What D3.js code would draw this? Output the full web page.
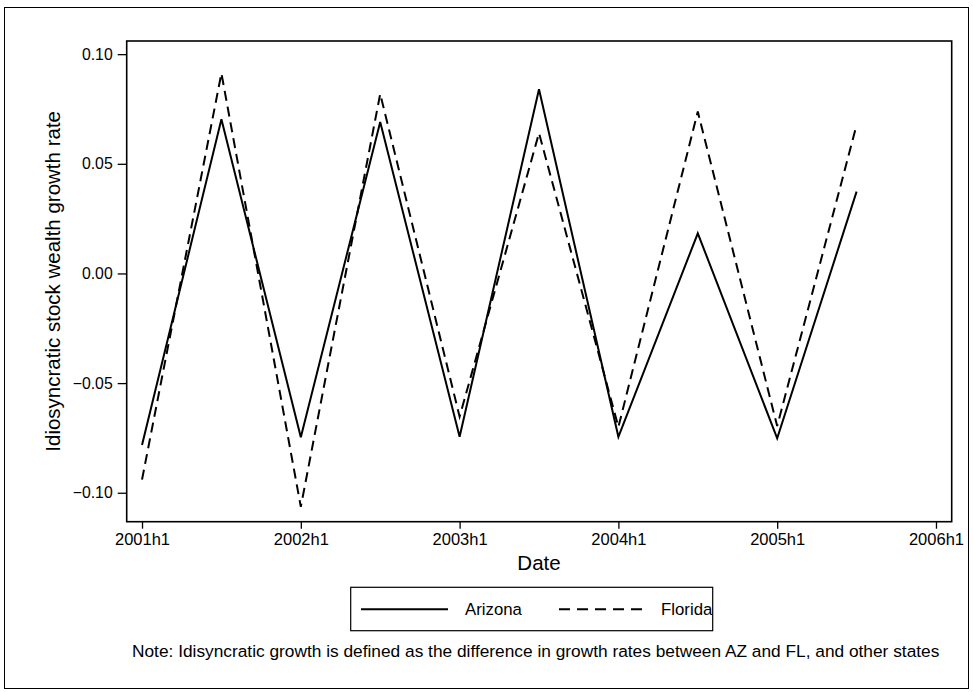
<!DOCTYPE html>
<html><head><meta charset="utf-8">
<script src="https://cdn.jsdelivr.net/npm/d3@7"></script>
<style>body{margin:0;background:#fff;} svg{display:block;} text{font-family:"Liberation Sans",Arial,sans-serif;fill:#000;}</style>
</head><body>
<svg id="c" width="973" height="692"></svg>
<script>
const periods = ["2001h1","2001h2","2002h1","2002h2","2003h1","2003h2","2004h1","2004h2","2005h1","2005h2"];
const arizona = [-0.0782, 0.0703, -0.0747, 0.0691, -0.0745, 0.0840, -0.0745, 0.0183, -0.0752, 0.0373];
const florida = [-0.0940, 0.0913, -0.1064, 0.0819, -0.0653, 0.0640, -0.0700, 0.0738, -0.0696, 0.0677];
const xTickLabels = ["2001h1","2002h1","2003h1","2004h1","2005h1","2006h1"];
const yTicks = [-0.10, -0.05, 0.00, 0.05, 0.10];
const seriesNames = ["Arizona","Florida"];
const yTitle = "Idiosyncratic stock wealth growth rate";
const xTitle = "Date";
const note = "Note: Idisyncratic growth is defined as the difference in growth rates between AZ and FL, and other states";

const svg = d3.select("#c");
const L = 126.7, R = 951.7, T = 41, B = 521.7;
const x = d3.scaleLinear().domain([-0.193, 10.198]).range([L, R]);
const y = d3.scaleLinear().domain([-0.1132, 0.106]).range([B, T]);

svg.append("rect").attr("x",0).attr("y",0).attr("width",973).attr("height",692).attr("fill","#fff");
svg.append("rect").attr("x",4.5).attr("y",7.5).attr("width",964).attr("height",681)
  .attr("fill","none").attr("stroke","#000").attr("stroke-width",1);

// axes
const xIdx = xTickLabels.map((d,i)=>i*2);
const xAxis = d3.axisBottom(x).tickValues(xIdx).tickFormat((d,i)=>xTickLabels[i]).tickSize(7).tickPadding(5);
const gx = svg.append("g").attr("transform",`translate(0,${B})`).call(xAxis);
gx.select(".domain").remove();
gx.selectAll("line").attr("stroke","#000").attr("stroke-width",1.3);
gx.selectAll("text").style("font-size","16.5px").attr("font-family","Liberation Sans, Arial").attr("fill","#000");

const yAxis = d3.axisLeft(y).tickValues(yTicks).tickFormat(d=>d3.format(".2f")(d).replace("-","\u2212")).tickSize(9).tickPadding(5);
const gy = svg.append("g").attr("transform",`translate(${L},0)`).call(yAxis);
gy.select(".domain").remove();
gy.selectAll("line").attr("stroke","#000").attr("stroke-width",1.3);
gy.selectAll("text").style("font-size","15.8px").attr("font-family","Liberation Sans, Arial").attr("fill","#000");

// plot frame
svg.append("rect").attr("x",L).attr("y",T).attr("width",R-L).attr("height",B-T)
  .attr("fill","none").attr("stroke","#000").attr("stroke-width",1.6);

const line = d3.line().x((d,i)=>x(i)).y(d=>y(d));
svg.append("path").datum(arizona).attr("d",line).attr("fill","none").attr("stroke","#000").attr("stroke-width",2);
svg.append("path").datum(florida).attr("d",line).attr("fill","none").attr("stroke","#000").attr("stroke-width",2).attr("stroke-dasharray","10,6");

// titles
svg.append("text").attr("x",539).attr("y",570).attr("text-anchor","middle").style("font-size","20.5px").text(xTitle);
svg.append("text").attr("transform",`translate(60,${(T+B)/2}) rotate(-90)`).attr("text-anchor","middle").style("font-size","20.5px").text(yTitle);

// legend
svg.append("rect").attr("x",350.7).attr("y",587.3).attr("width",362).attr("height",43.4).attr("fill","none").attr("stroke","#000").attr("stroke-width",1.2);
svg.append("line").attr("x1",361).attr("x2",448).attr("y1",609.3).attr("y2",609.3).attr("stroke","#000").attr("stroke-width",2);
svg.append("line").attr("x1",559).attr("x2",643).attr("y1",609.3).attr("y2",609.3).attr("stroke","#000").attr("stroke-width",2).attr("stroke-dasharray","11,7");
svg.append("text").attr("x",465).attr("y",615).style("font-size","16.8px").text(seriesNames[0]);
svg.append("text").attr("x",661).attr("y",615).style("font-size","16.8px").text(seriesNames[1]);

// note
const nt = svg.append("text").attr("x",132).attr("y",657).style("font-size","15px").text(note);
const w = nt.node().getComputedTextLength();
nt.style("font-size", (15*808/w).toFixed(2)+"px");
</script>
</body></html>
